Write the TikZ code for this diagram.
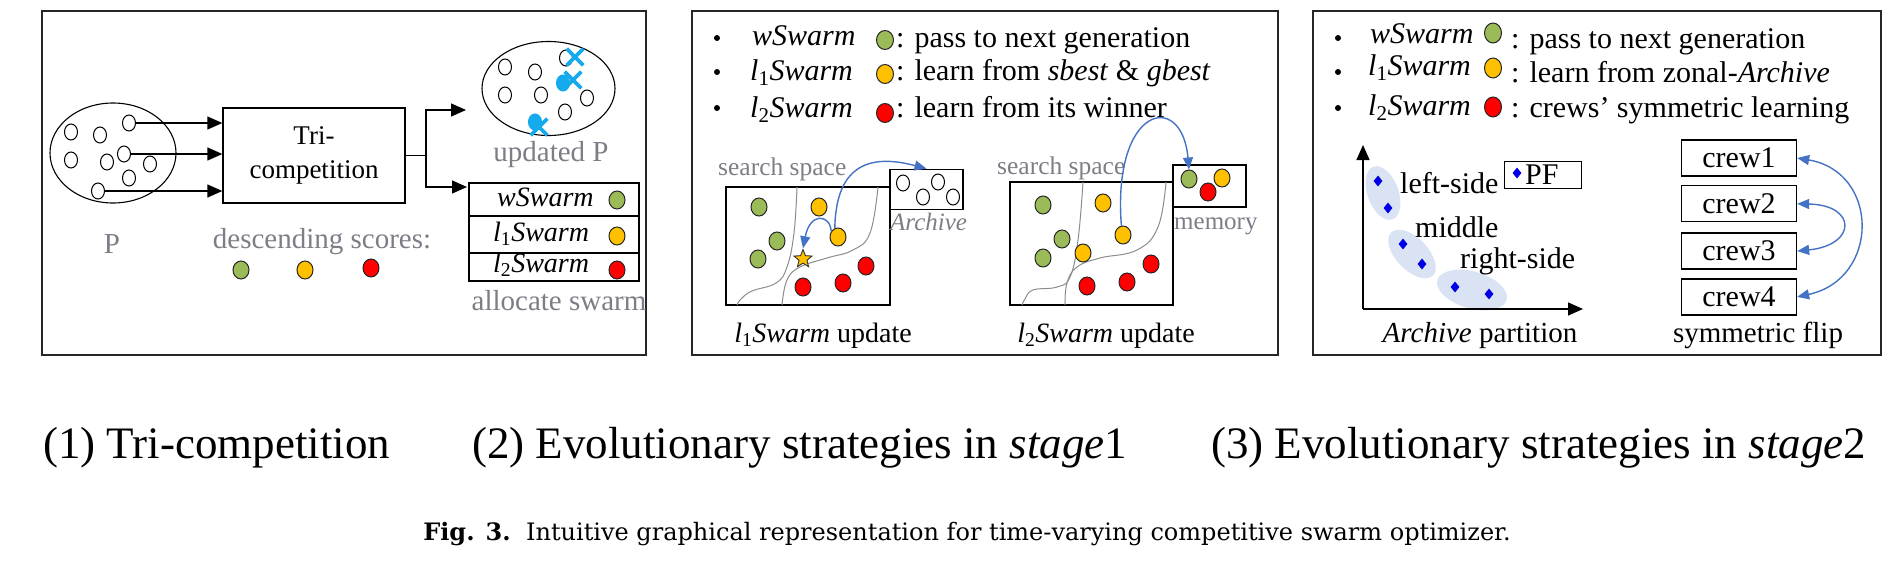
\documentclass[tikz,border=0pt]{standalone}
\usepackage{fontspec}
\setmainfont{Liberation Serif}
\newfontfamily\capfont{DejaVu Serif}
\usepackage{tikz}
\usetikzlibrary{arrows.meta,shapes.geometric,shapes.misc,positioning}
\usepackage{xcolor}
\definecolor{swgreen}{RGB}{155,187,89}
\definecolor{swyellow}{RGB}{255,192,0}
\definecolor{swred}{RGB}{255,0,0}
\definecolor{swblue}{RGB}{68,114,196}
\definecolor{swcyan}{RGB}{20,170,235}
\definecolor{swgray}{RGB}{125,125,135}
\definecolor{zoneblue}{RGB}{218,227,243}
\definecolor{pfblue}{RGB}{0,0,230}
\newcommand{\lswarm}[1]{\textit{l}\textsubscript{#1}\textit{Swarm}}
\tikzstyle{panel} = [draw=black!85, line width=1.6pt]
\tikzstyle{process} = [rectangle, draw, line width=1.3pt, minimum width=182pt, minimum height=95pt, align=center, font=\fontsize{27}{34}\selectfont]
\tikzstyle{frame} = [rectangle, draw, line width=1.3pt, inner sep=0pt]
\tikzstyle{rowbox} = [frame, minimum width=170pt]
\tikzstyle{particle} = [ellipse, draw, line width=1pt, minimum width=13pt, minimum height=16pt, inner sep=0pt]
\tikzstyle{sdot} = [ellipse, draw=black!85, line width=1pt, minimum width=16pt, minimum height=18pt, inner sep=0pt]
\tikzstyle{gdot} = [sdot, fill=swgreen]
\tikzstyle{ydot} = [sdot, fill=swyellow]
\tikzstyle{rdot} = [sdot, fill=swred]
\tikzstyle{legdot} = [minimum width=17pt, minimum height=19pt]
\tikzstyle{legbullet} = [circle, fill, inner sep=0pt, minimum size=6pt]
\tikzstyle{legtext} = [anchor=base west, inner sep=0pt]
\tikzstyle{graylabel} = [text=swgray, inner sep=0pt]
\tikzstyle{hit} = [cross out, draw=swcyan, line width=3.6pt, minimum size=13pt, inner sep=0pt]
\tikzstyle{boundary} = [draw=black!45, line width=1pt]
\tikzstyle{zone} = [ellipse, fill=zoneblue, inner sep=0pt]
\tikzstyle{pfmark} = [diamond, fill=pfblue, minimum width=9pt, minimum height=11pt, inner sep=0pt]
\tikzstyle{arrow} = [line width=1.3pt, -{Triangle[length=15pt,width=13pt]}]
\tikzstyle{bluearrow} = [line width=1.4pt, draw=swblue, -{Triangle[length=12pt,width=10pt]}, color=swblue]
\tikzstyle{crewarrow} = [bluearrow, {Triangle[length=12pt,width=10pt]}-{Triangle[length=12pt,width=10pt]}]
\begin{document}
\begin{tikzpicture}[x=1pt, y=-1pt, font=\fontsize{30}{34}\selectfont]
\useasboundingbox (0,0) rectangle (1901,562);

% panel frames
\draw[panel] (42,11) rectangle (646,355);
\draw[panel] (692,11) rectangle (1278,355);
\draw[panel] (1313,11) rectangle (1881,355);

%% (1) tri-competition
\node (pop) [ellipse, draw, line width=1.1pt, minimum width=126pt, minimum height=100pt] at (113,153) {};
\foreach \n/\x/\y in {p1/71/132, p2/100/135, p3/129/123, p4/71/160, p5/107/162, p6/124/154, p7/150/164, p8/129/178, p9/98/191}
  \node (\n) [particle] at (\x,\y) {};
\node (tri) [process] at (314,155.5) {Tri-\\competition};
\draw[arrow] (p3.east) -- (p3 -| tri.west);
\draw[arrow] (p6.east) -- (p6 -| tri.west);
\draw[arrow] (p9.east) -- (p9 -| tri.west);
\coordinate (fork) at (426,155.5);
\coordinate (upin) at (466,110);
\coordinate (tabin) at (467,187);
\draw[line width=1.3pt] (tri.east) -- (fork);
\draw[arrow] (fork) |- (upin);
\draw[arrow] (fork) |- (tabin);

\node (upd) [ellipse, draw, line width=1.1pt, minimum width=133pt, minimum height=94pt] at (548.5,88.5) {};
\foreach \n/\x/\y in {u1/505/67, u2/535/72, u3/505/95, u4/541/95, u5/587/98, u6/565/112, u9/566/58}
  \node (\n) [particle] at (\x,\y) {};
\node (u7) [particle, draw=swcyan, fill=swcyan] at (535,122) {};
\node (u8) [particle, draw=swcyan, fill=swcyan] at (563,83) {};
\node (x1) [hit] at (575,57) {};
\node (x2) [hit] at (573,80) {};
\node (x3) [hit] at (539,127) {};

\node (lblP) [graylabel, anchor=base, font=\fontsize{29}{32}\selectfont] at (112,253) {P};
\node (lblupd) [graylabel, anchor=base, font=\fontsize{29}{32}\selectfont] at (551,161) {updated P};
\node (lblsc) [graylabel, anchor=base, font=\fontsize{29}{32}\selectfont] at (322,248) {descending scores:};
\node (sc1) [gdot] at (241,270) {};
\node (sc2) [ydot] at (305,270) {};
\node (sc3) [rdot] at (371,268) {};

\node (wrow) [rowbox, minimum height=33pt] at (554,199.5) {};
\node (lrow1) [rowbox, minimum height=37pt] at (554,234.5) {};
\node (lrow2) [rowbox, minimum height=28pt] at (554,267) {};
\node [legtext, font=\fontsize{28}{30}\selectfont] at (497,206) {\textit{wSwarm}};
\node [legtext, font=\fontsize{28}{30}\selectfont] at (493,241) {\lswarm{1}};
\node [legtext, font=\fontsize{28}{30}\selectfont] at (493,272) {\lswarm{2}};
\node (wd) [gdot] at (617,200) {};
\node (l1d) [ydot] at (617,236) {};
\node (l2d) [rdot] at (617,270) {};
\node (lblal) [graylabel, anchor=base, font=\fontsize{29}{32}\selectfont] at (559,310) {allocate swarm};

%% (2) stage 1
\foreach \n/\y in {1/38, 2/72, 3/108}
  \node (bA\n) [legbullet] at (717,\y) {};
\node (nA1) [legtext] at (752,45) {\textit{wSwarm}};
\node (nA2) [legtext] at (750,80) {\lswarm{1}};
\node (nA3) [legtext] at (750,117) {\lswarm{2}};
\node (dA1) [gdot, legdot] at (885,40) {};
\node (dA2) [ydot, legdot] at (885,74) {};
\node (dA3) [rdot, legdot] at (885,113) {};
\node (tA1) [legtext] at (896,47) {: pass to next generation};
\node (tA2) [legtext] at (896,80) {: learn from \textit{sbest} \& \textit{gbest}};
\node (tA3) [legtext] at (896,117) {: learn from its winner};

% l1Swarm update
\node (ssA) [frame, minimum width=164pt, minimum height=118pt] at (808,246) {};
\node (arch) [frame, minimum width=73pt, minimum height=40pt] at (926.5,189.3) {};
\node (lblssA) [graylabel, anchor=base west, font=\fontsize{25.5}{28}\selectfont] at (718,175) {search space};
\node (lblarch) [graylabel, anchor=base west, font=\fontsize{25}{28}\selectfont] at (890,230) {\textit{Archive}};
\foreach \n/\x/\y in {a1/903/183, a2/923/197, a3/938/182, a4/953/197}
  \node (\n) [particle] at (\x,\y) {};
\draw[boundary] plot[smooth, tension=0.7] coordinates {(797,187) (794,233) (787,267) (776,283) (752,291) (741,299) (737,305)};
\draw[boundary] plot[smooth, tension=0.7] coordinates {(878,187) (870,233) (853,250) (827,258) (800,267) (787,280) (782,305)};
\node (ga1) [gdot] at (759,207) {};
\node (ya1) [ydot] at (819,207) {};
\node (ga2) [gdot] at (777,241) {};
\node (ya2) [ydot] at (838,237) {};
\node (ga3) [gdot] at (758,259) {};
\node (sbest) [star, star points=5, star point ratio=2.3, fill=swyellow, draw=black!80, line width=0.9pt, minimum size=19pt, inner sep=0pt] at (803,259) {};
\node (ra1) [rdot] at (866,266) {};
\node (ra2) [rdot] at (803,287) {};
\node (ra3) [rdot] at (843,283) {};
\draw[bluearrow] (ya2.110) .. controls (836,160) and (875,155) .. (arch.north);
\draw[bluearrow] (ya2.140) .. controls (830,214) and (810,212) .. (sbest.north);
\node (lblA) [anchor=base, font=\fontsize{28}{30}\selectfont] at (823,342) {\lswarm{1} update};

% l2Swarm update
\node (ssB) [frame, minimum width=163pt, minimum height=123pt] at (1091.5,243.5) {};
\node (mem) [frame, minimum width=73pt, minimum height=42pt] at (1209.5,186) {};
\node (lblssB) [graylabel, anchor=base west, font=\fontsize{25.5}{28}\selectfont] at (997,174) {search space};
\node (lblmem) [graylabel, anchor=base west, font=\fontsize{25}{28}\selectfont] at (1174,229) {memory};
\node (mg) [gdot] at (1189,179) {};
\node (mr) [rdot] at (1208,192) {};
\node (my) [ydot] at (1222,178) {};
\draw[boundary] plot[smooth, tension=0.7] coordinates {(1083,182) (1078,240) (1070,277) (1057,287) (1033,290) (1025,299) (1022,305)};
\draw[boundary] plot[smooth, tension=0.7] coordinates {(1166,182) (1158,227) (1137,250) (1100,258) (1077,267) (1067,283) (1065,305)};
\node (gb1) [gdot] at (1043,205) {};
\node (yb1) [ydot] at (1103,203) {};
\node (gb2) [gdot] at (1062,239) {};
\node (yb2) [ydot] at (1123,235) {};
\node (gb3) [gdot] at (1043,258) {};
\node (yb3) [ydot] at (1083,253) {};
\node (rb1) [rdot] at (1151,264) {};
\node (rb2) [rdot] at (1087,286) {};
\node (rb3) [rdot] at (1127,282) {};
\draw[bluearrow] (yb2.100) .. controls (1112,105) and (1182,90) .. (mg.north);
\node (lblB) [anchor=base, font=\fontsize{28}{30}\selectfont] at (1106,342) {\lswarm{2} update};

%% (3) stage 2
\foreach \n/\y in {1/38, 2/72, 3/108}
  \node (bB\n) [legbullet] at (1338,\y) {};
\node (nB1) [legtext] at (1370,43) {\textit{wSwarm}};
\node (nB2) [legtext] at (1368,75) {\lswarm{1}};
\node (nB3) [legtext] at (1368,115) {\lswarm{2}};
\node (dB1) [gdot, minimum width=17pt, minimum height=20pt] at (1493,33) {};
\node (dB2) [ydot, minimum width=17pt, minimum height=20pt] at (1493,68) {};
\node (dB3) [rdot, minimum width=17pt, minimum height=20pt] at (1493,107) {};
\node (tB1) [legtext] at (1511,48) {: pass to next generation};
\node (tB2) [legtext] at (1511,82) {: learn from zonal-\textit{Archive}};
\node (tB3) [legtext] at (1511,117) {: crews’ symmetric learning};

% Archive partition
\node (zl) [zone, rotate=-70, minimum width=56pt, minimum height=31pt] at (1383,193) {};
\node (zm) [zone, rotate=-46, minimum width=60pt, minimum height=32pt] at (1412,254) {};
\node (zr) [zone, rotate=-16, minimum width=72pt, minimum height=37pt] at (1472,290) {};
\foreach \n/\x/\y in {m1/1378/181, m2/1388/208, m3/1403/244, m4/1422/264, m5/1455/287, m6/1489/294}
  \node (\n) [pfmark] at (\x,\y) {};
\coordinate (orig) at (1363,309);
\coordinate (ytip) at (1363,145);
\coordinate (xtip) at (1583,309);
\draw[arrow] (orig) -- (ytip);
\draw[arrow] (orig) -- (xtip);
\node (lblleft) [legtext] at (1400,193) {left-side};
\node (lblmid) [legtext] at (1415,237) {middle};
\node (lblright) [legtext] at (1460,268) {right-side};
\node (pf) [frame, minimum width=77pt, minimum height=27pt] at (1543,175) {};
\node (pfm) [pfmark] at (1517,173) {};
\node (pft) [legtext] at (1525,184) {PF};
\node (lblC) [anchor=base, font=\fontsize{29}{30}\selectfont] at (1480,342) {\textit{Archive} partition};

% symmetric flip
\node (crew1) [frame, minimum width=115pt, minimum height=36pt] at (1739,158) {crew1};
\node (crew2) [frame, minimum width=115pt, minimum height=36pt, below=8.5pt of crew1] {crew2};
\node (crew3) [frame, minimum width=115pt, minimum height=36pt, below=10pt of crew2] {crew3};
\node (crew4) [frame, minimum width=115pt, minimum height=36pt, below=8.5pt of crew3] {crew4};
\draw[crewarrow] (crew1.east) .. controls (1880,172) and (1880,279) .. (crew4.east);
\draw[crewarrow] (crew2.east) .. controls (1857,205) and (1857,245) .. (crew3.east);
\node (lblD) [anchor=base, font=\fontsize{29}{30}\selectfont] at (1758,342) {symmetric flip};

%% captions
\node (cap1) [anchor=base west, inner sep=0pt, font=\fontsize{45}{50}\selectfont] at (43,458) {(1) Tri-competition};
\node (cap2) [anchor=base west, inner sep=0pt, font=\fontsize{45}{50}\selectfont] at (472,458) {(2) Evolutionary strategies in \textit{stage}1};
\node (cap3) [anchor=base west, inner sep=0pt, font=\fontsize{45}{50}\selectfont] at (1211,458) {(3) Evolutionary strategies in \textit{stage}2};
\node (figcap) [anchor=base, inner sep=0pt, font=\capfont\fontsize{24}{27}\selectfont] at (967,540) {\textbf{Fig. 3.}\ \ Intuitive graphical representation for time-varying competitive swarm optimizer.};
\end{tikzpicture}
\end{document}
